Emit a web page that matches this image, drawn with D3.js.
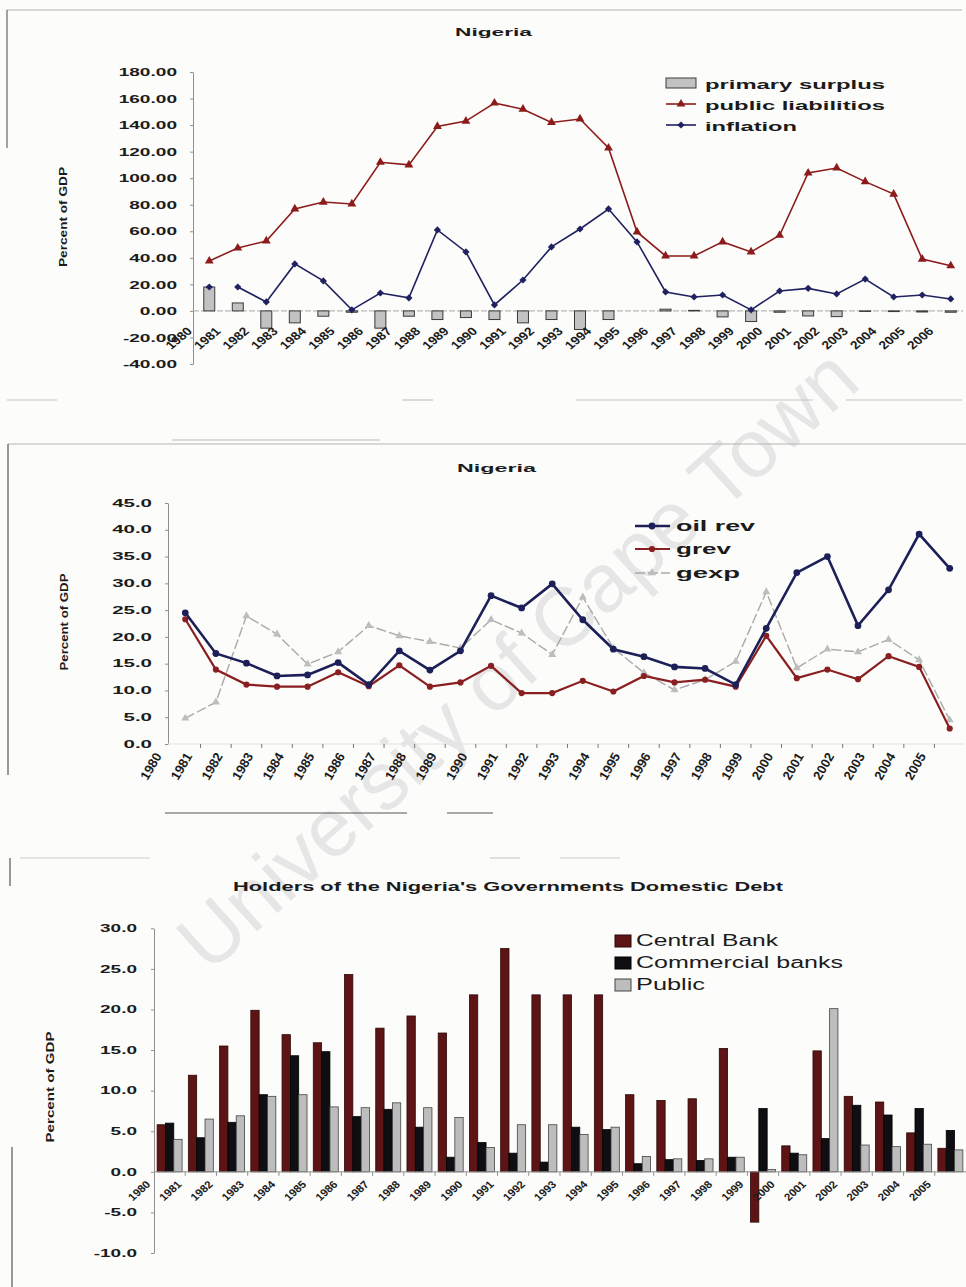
<!DOCTYPE html>
<html>
<head>
<meta charset="utf-8">
<script src="https://cdn.jsdelivr.net/npm/d3@7"></script>
<style>
  body { margin: 0; background: #fcfcfa; }
  svg { display: block; }
</style>
</head>
<body>
<svg id="page" width="966" height="1287"></svg>
<script>
// ---- chart 1: primary surplus / public liabilities / inflation
var years1 = ["1980","1981","1982","1983","1984","1985","1986","1987","1988","1989","1990",
  "1991","1992","1993","1994","1995","1996","1997","1998","1999","2000","2001","2002","2003",
  "2004","2005","2006"];
var primarySurplus = [18, 6, -13, -9, -4, -1, -13, -4, -6.5, -5, -6.5, -9, -6.5, -14, -6.5, 0,
  1.3, 0.4, -4.5, -8, -1, -3.8, -4.3, -0.4, -0.5, -0.8, -1];
var publicLiabilities = [37.6, 47.4, 52.7, 76.8, 82, 80.6, 112, 110, 139, 143, 156.6, 152, 142,
  144.6, 122.7, 59.5, 41.4, 41.4, 52, 44.4, 57, 103.9, 107.7, 97.4, 88, 39, 34];
var inflation = [18, 18, 6.8, 35.4, 22.6, 0.8, 13.5, 9.8, 61, 44.4, 4.5, 23.3, 48.2, 61.7, 76.8,
  52, 14.3, 10.5, 12, 0.8, 15, 17, 12.8, 24, 10.5, 12, 9];
var yTicks1 = [-40, -20, 0, 20, 40, 60, 80, 100, 120, 140, 160, 180];

// ---- chart 2: oil revenue / government revenue / expenditure
var years2 = ["1980","1981","1982","1983","1984","1985","1986","1987","1988","1989","1990",
  "1991","1992","1993","1994","1995","1996","1997","1998","1999","2000","2001","2002","2003",
  "2004","2005"];
var oilRev = [24.5, 16.9, 15.1, 12.7, 12.9, 15.2, 11.1, 17.4, 13.8, 17.4, 27.7, 25.4, 29.9, 23.2,
  17.7, 16.3, 14.4, 14.1, 11.1, 21.6, 32, 35, 22.1, 28.8, 39.2, 32.8];
var grev = [23.3, 13.9, 11.1, 10.7, 10.7, 13.4, 10.8, 14.7, 10.7, 11.5, 14.6, 9.5, 9.5, 11.8,
  9.8, 12.7, 11.5, 12, 10.7, 20.2, 12.3, 13.9, 12.1, 16.4, 14.4, 2.9];
var gexp = [4.8, 7.8, 23.9, 20.5, 14.9, 17.2, 22.1, 20.2, 19.1, 17.9, 23.2, 20.7, 16.7, 27.4,
  17.9, 13.3, 10.1, 12, 15.4, 28.4, 14.2, 17.7, 17.2, 19.5, 15.7, 4.5];
var yTicks2 = [0, 5, 10, 15, 20, 25, 30, 35, 40, 45];

// ---- chart 3: holders of domestic debt
var years3 = years2;
var holderNames = ["Central Bank", "Commercial banks", "Public"];
var centralBank = [5.8, 11.9, 15.5, 19.9, 16.9, 15.9, 24.3, 17.7, 19.2, 17.1, 21.8, 27.5, 21.8,
  21.8, 21.8, 9.5, 8.8, 9.0, 15.2, -6.2, 3.2, 14.9, 9.3, 8.6, 4.8, 2.9];
var commercialBanks = [6.0, 4.2, 6.1, 9.5, 14.3, 14.8, 6.8, 7.7, 5.5, 1.8, 3.6, 2.3, 1.2, 5.5,
  5.2, 1.0, 1.5, 1.4, 1.8, 7.8, 2.3, 4.1, 8.2, 7.0, 7.8, 5.1];
var publicHolders = [4.0, 6.5, 6.9, 9.3, 9.5, 8.0, 7.9, 8.5, 7.9, 6.7, 3.0, 5.8, 5.8, 4.6, 5.5,
  1.9, 1.6, 1.6, 1.8, 0.3, 2.1, 20.1, 3.3, 3.1, 3.4, 2.7];
var yTicks3 = [-10, -5, 0, 5, 10, 15, 20, 25, 30];

var FONT = "'Liberation Sans', Arial, sans-serif";
var INK = "#1b1b1b";
var svg = d3.select("#page");

svg.append("rect").attr("width", 966).attr("height", 1287).attr("fill", "#fcfcfa");

// watermark of the scanned page
svg.append("text")
    .attr("transform", "translate(536,680) rotate(-42)")
    .attr("text-anchor", "middle")
    .attr("font-family", FONT)
    .attr("font-size", 82)
    .attr("textLength", 880)
    .attr("lengthAdjust", "spacingAndGlyphs")
    .attr("fill", "#e6e6e6")
    .text("University of Cape Town");

// leftover frame lines from the scan
var frame = [
  [7, 10, 962, 10, "#b4b4b4"], [7, 10, 7, 148, "#666"],
  [7, 400, 57, 400, "#c4c4c4"], [402, 400, 433, 400, "#c4c4c4"],
  [576, 400, 813, 400, "#c4c4c4"], [846, 400, 962, 400, "#c4c4c4"],
  [172, 440, 380, 440, "#bbb"], [8, 444, 966, 444, "#b4b4b4"], [8, 444, 8, 775, "#555"],
  [165, 813, 407, 813, "#555"], [447, 813, 493, 813, "#555"],
  [20, 858, 150, 858, "#ccc"], [490, 858, 520, 858, "#ccc"], [560, 858, 620, 858, "#ccc"],
  [10, 858, 10, 886, "#555"], [12, 1147, 12, 1287, "#555"]
];
svg.selectAll("line.frame").data(frame).join("line")
    .attr("class", "frame")
    .attr("x1", d => d[0]).attr("y1", d => d[1])
    .attr("x2", d => d[2]).attr("y2", d => d[3])
    .attr("stroke", d => d[4]).attr("stroke-width", 1.2);

function yAxis(g, scale, x, ticks, fmt, size, sx, gap) {
  var ax = g.append("g")
      .attr("transform", "translate(" + x + ",0)")
      .call(d3.axisLeft(scale).tickValues(ticks).tickFormat(fmt).tickSize(3).tickSizeOuter(0));
  ax.select(".domain").attr("stroke", "#8f8f8f");
  ax.selectAll(".tick line").attr("stroke", "#8f8f8f");
  ax.selectAll(".tick text")
      .attr("font-family", FONT)
      .attr("font-size", size)
      .attr("font-weight", "bold")
      .attr("fill", INK)
      .attr("x", -gap / sx)
      .attr("transform", "scale(" + sx + ",1)");
}

function xLabels(g, cats, xpos, y, size, sx, angle) {
  g.append("g").selectAll("text").data(cats).join("text")
      .attr("transform", d => "translate(" + xpos(d) + "," + y + ") scale(" + sx + ",1) rotate(" + angle + ")")
      .attr("text-anchor", "end")
      .attr("font-family", FONT)
      .attr("font-size", size)
      .attr("font-weight", "bold")
      .attr("fill", INK)
      .text(d => d);
}

function label(g, txt, x, y, size, width, weight, rotate) {
  return g.append("text")
      .attr("transform", "translate(" + x + "," + y + ")" + (rotate ? " rotate(-90)" : ""))
      .attr("text-anchor", rotate ? "middle" : "start")
      .attr("font-family", FONT)
      .attr("font-size", size)
      .attr("font-weight", weight)
      .attr("textLength", width)
      .attr("lengthAdjust", "spacingAndGlyphs")
      .attr("fill", INK)
      .text(txt);
}

// ================= chart 1 =================
var g1 = svg.append("g");
var x1 = d3.scaleBand().domain(years1).range([195, 965]);
var y1 = d3.scaleLinear().domain([-40, 180]).range([364, 72]);
var cx1 = d => x1(d) + x1.bandwidth() / 2;

label(g1, "Nigeria", 455, 36, 11, 77, "bold", false);
label(g1, "Percent of GDP", 67, 217, 10, 100, "bold", true);
yAxis(g1, y1, 193, yTicks1, d => d.toFixed(2), 11.5, 1.66, 16);

g1.append("line")
    .attr("x1", 193).attr("x2", 963)
    .attr("y1", y1(0)).attr("y2", y1(0))
    .attr("stroke", "#a8a8a8").attr("stroke-dasharray", "6,2");

g1.append("g").selectAll("rect").data(primarySurplus).join("rect")
    .attr("x", (d, i) => cx1(years1[i]) - 5.5)
    .attr("y", d => y1(Math.max(0, d)))
    .attr("width", 11)
    .attr("height", d => Math.abs(y1(d) - y1(0)))
    .attr("fill", "#c2c2c2")
    .attr("stroke", "#3a3a3a")
    .attr("stroke-width", 1);

xLabels(g1, years1, d => x1(d) - 2, 332, 11.5, 1.2, -45);

var line1 = d3.line().x((d, i) => cx1(years1[i])).y(d => y1(d));
g1.append("path").datum(publicLiabilities)
    .attr("d", line1).attr("fill", "none")
    .attr("stroke", "#8c1c1c").attr("stroke-width", 1.6);
g1.append("path").datum(inflation)
    .attr("d", line1.defined((d, i) => i > 0)).attr("fill", "none")
    .attr("stroke", "#1f2160").attr("stroke-width", 1.6);

var tri = d3.symbol(d3.symbolTriangle, 34);
var dia = d3.symbol(d3.symbolSquare, 26);
g1.append("g").selectAll("path").data(publicLiabilities).join("path")
    .attr("d", tri)
    .attr("transform", (d, i) => "translate(" + cx1(years1[i]) + "," + y1(d) + ")")
    .attr("fill", "#8c1c1c");
g1.append("g").selectAll("path").data(inflation).join("path")
    .attr("d", dia)
    .attr("transform", (d, i) => "translate(" + cx1(years1[i]) + "," + y1(d) + ") rotate(45)")
    .attr("fill", "#1f2160");

// legend 1
g1.append("rect").attr("x", 666).attr("y", 78).attr("width", 30).attr("height", 10)
    .attr("fill", "#c2c2c2").attr("stroke", "#3a3a3a");
g1.append("line").attr("x1", 666).attr("x2", 696).attr("y1", 104).attr("y2", 104)
    .attr("stroke", "#8c1c1c").attr("stroke-width", 1.6);
g1.append("path").attr("d", tri).attr("transform", "translate(681,104)").attr("fill", "#8c1c1c");
g1.append("line").attr("x1", 666).attr("x2", 696).attr("y1", 125).attr("y2", 125)
    .attr("stroke", "#1f2160").attr("stroke-width", 1.6);
g1.append("path").attr("d", dia).attr("transform", "translate(681,125) rotate(45)").attr("fill", "#1f2160");
label(g1, "primary surplus", 705, 89, 13, 180, "bold", false);
label(g1, "public liabilitios", 705, 110, 13, 180, "bold", false);
label(g1, "inflation", 705, 131, 13, 92, "bold", false);

// ================= chart 2 =================
var g2 = svg.append("g");
var x2 = d3.scaleBand().domain(years2).range([170, 965]);
var y2 = d3.scaleLinear().domain([0, 45]).range([744, 503]);
var cx2 = d => x2(d) + x2.bandwidth() / 2;

label(g2, "Nigeria", 457, 472, 11, 79, "bold", false);
label(g2, "Percent of GDP", 68, 622, 10, 97, "bold", true);
yAxis(g2, y2, 168, yTicks2, d => d.toFixed(1), 10, 2.05, 16);

g2.append("line").attr("x1", 168).attr("x2", 965).attr("y1", y2(0)).attr("y2", y2(0))
    .attr("stroke", "#e2e2e2");
g2.append("g").selectAll("line").data(years2.slice(1)).join("line")
    .attr("x1", d => x2(d)).attr("x2", d => x2(d))
    .attr("y1", y2(0)).attr("y2", y2(0) + 4)
    .attr("stroke", "#777");

xLabels(g2, years2, d => x2(d) - 8, 756, 13, 1, -60);

var line2 = d3.line().x((d, i) => cx2(years2[i])).y(d => y2(d));
var series2 = [
  { values: gexp, color: "#a9a9a9", width: 1.4, dash: "10,3", sym: d3.symbol(d3.symbolTriangle, 28), fill: "#bdbdbd" },
  { values: grev, color: "#8a1f22", width: 2.2, dash: null, sym: d3.symbol(d3.symbolCircle, 30), fill: "#8a1f22" },
  { values: oilRev, color: "#1d2058", width: 2.6, dash: null, sym: d3.symbol(d3.symbolCircle, 36), fill: "#1d2058" }
];
series2.forEach(function (s) {
  g2.append("path").datum(s.values)
      .attr("d", line2).attr("fill", "none")
      .attr("stroke", s.color).attr("stroke-width", s.width)
      .attr("stroke-dasharray", s.dash);
  g2.append("g").selectAll("path").data(s.values).join("path")
      .attr("d", s.sym)
      .attr("transform", (d, i) => "translate(" + cx2(years2[i]) + "," + y2(d) + ")")
      .attr("fill", s.fill);
});

// legend 2
var leg2 = [
  { name: "oil rev", s: series2[2], y: 526, w: 79 },
  { name: "grev", s: series2[1], y: 549, w: 55 },
  { name: "gexp", s: series2[0], y: 573, w: 64 }
];
leg2.forEach(function (l) {
  g2.append("line").attr("x1", 635).attr("x2", 670).attr("y1", l.y).attr("y2", l.y)
      .attr("stroke", l.s.color).attr("stroke-width", l.s.width).attr("stroke-dasharray", l.s.dash);
  g2.append("path").attr("d", l.s.sym).attr("transform", "translate(652," + l.y + ")").attr("fill", l.s.fill);
  label(g2, l.name, 676, l.y + 5, 15, l.w, "bold", false);
});

// ================= chart 3 =================
var g3 = svg.append("g");
var x3 = d3.scaleBand().domain(years3).range([154, 966]).paddingInner(0.2).paddingOuter(0.1);
var x3in = d3.scaleBand().domain(holderNames).range([0, x3.bandwidth()]);
var y3 = d3.scaleLinear().domain([-10, 30]).range([1253, 928.3]);
var tick3 = d => x3(d) - x3.step() * 0.1;

label(g3, "Holders of the Nigeria's Governments Domestic Debt", 233, 891, 12.5, 550, "bold", false);
label(g3, "Percent of GDP", 54, 1087, 11, 111, "bold", true);
yAxis(g3, y3, 154, yTicks3, d => d.toFixed(1), 10, 1.9, 17);

var holders = [
  { name: holderNames[0], values: centralBank, fill: "#5e1414", stroke: "#2a0808" },
  { name: holderNames[1], values: commercialBanks, fill: "#0e0e13", stroke: "#000" },
  { name: holderNames[2], values: publicHolders, fill: "#bdbdbd", stroke: "#444" }
];
holders.forEach(function (h) {
  g3.append("g").selectAll("rect").data(h.values).join("rect")
      .attr("x", (d, i) => x3(years3[i]) + x3in(h.name))
      .attr("y", d => y3(Math.max(0, d)))
      .attr("width", x3in.bandwidth())
      .attr("height", d => Math.abs(y3(d) - y3(0)))
      .attr("fill", h.fill)
      .attr("stroke", h.stroke)
      .attr("stroke-width", 0.8);
});

g3.append("line").attr("x1", 154).attr("x2", 966).attr("y1", y3(0)).attr("y2", y3(0))
    .attr("stroke", "#8f8f8f");
g3.append("g").selectAll("line").data(years3.slice(1)).join("line")
    .attr("x1", tick3).attr("x2", tick3)
    .attr("y1", y3(0)).attr("y2", y3(0) + 4)
    .attr("stroke", "#8f8f8f");

xLabels(g3, years3, d => tick3(d) - 3, 1185, 10.5, 1.1, -45);

// legend 3
var legW3 = [142, 207, 69];
holders.forEach(function (h, i) {
  g3.append("rect").attr("x", 615).attr("y", 935 + i * 22).attr("width", 16).attr("height", 12)
      .attr("fill", h.fill).attr("stroke", h.stroke);
  label(g3, h.name, 636, 946 + i * 22, 16, legW3[i], "normal", false);
});
</script>
</body>
</html>
